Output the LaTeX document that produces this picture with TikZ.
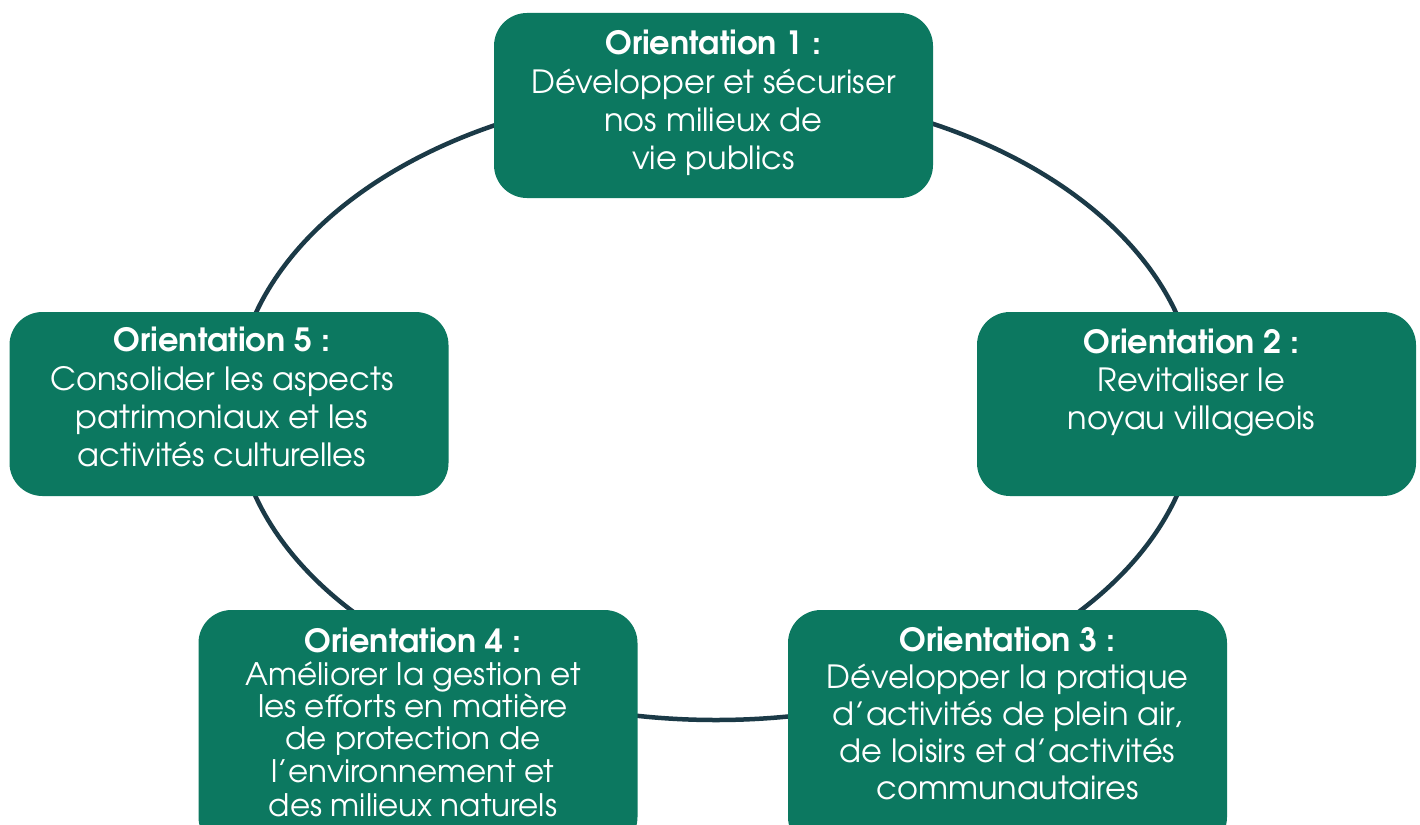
\documentclass[tikz,border=0pt]{standalone}
\usepackage{fontspec}
\setmainfont{texgyreadventor}[Extension=.otf, UprightFont=*-regular, BoldFont=*-bold]
\definecolor{boxgreen}{RGB}{12,120,96}
\definecolor{ringcol}{RGB}{27,58,71}
\tikzset{
  obox/.style={fill=boxgreen, draw=none, rounded corners=33pt, minimum width=439pt, inner sep=0pt},
  otext/.style={text=white, align=center, anchor=base, inner sep=0pt, font=\fontsize{32}{38.3}\selectfont},
  ring/.style={draw=ringcol, line width=4.5pt}
}
\begin{document}
\begin{tikzpicture}[x=1pt,y=-1pt]
\useasboundingbox (0,0) rectangle (1420,824);
\clip (0,0) rectangle (1420,824);
\fill[white] (0,0) rectangle (1420,824);
\path[ring] (716,405) ellipse [x radius=481pt, y radius=315pt];
% boxes
\node[obox, minimum height=185pt] (b1) at (713.5,105.5) {};
\node[obox, minimum height=184pt] (b2) at (1196.5,404) {};
\node[obox, minimum height=240pt] (b3) at (1007.5,730) {};
\node[obox, minimum height=240pt] (b4) at (418,730) {};
\node[obox, minimum height=184pt] (b5) at (229,404) {};
% texts (anchored at the baseline of their last line)
\node[otext] (t1) at ([yshift=-157pt]b1.north) {\textbf{Orientation 1 :}\\D\'evelopper et s\'ecuriser\\nos milieux de\\vie publics};
\node[otext] (t2) at ([xshift=-5pt,yshift=-118pt]b2.north) {\textbf{Orientation 2 :}\\Revitaliser le\\noyau villageois};
\node[otext, font=\fontsize{32}{37}\selectfont] (t3) at ([yshift=-190pt]b3.north) {\textbf{Orientation 3 :}\\D\'evelopper la pratique\\d’activit\'es de plein air,\\de loisirs et d’activit\'es\\communautaires};
\node[otext, font=\fontsize{31}{32.3}\selectfont] (t4) at ([xshift=-5pt,yshift=-207pt]b4.north) {{\fontsize{32}{32.3}\selectfont\textbf{Orientation 4 :}}\\Am\'eliorer la gestion et\\les efforts en mati\`ere\\de protection de\\l’environnement et\\[2.5pt]des milieux naturels};
\node[otext] (t5) at ([xshift=-7pt,yshift=-155pt]b5.north) {\textbf{Orientation 5 :}\\Consolider les aspects\\patrimoniaux et les\\activit\'es culturelles};
\end{tikzpicture}
\end{document}
